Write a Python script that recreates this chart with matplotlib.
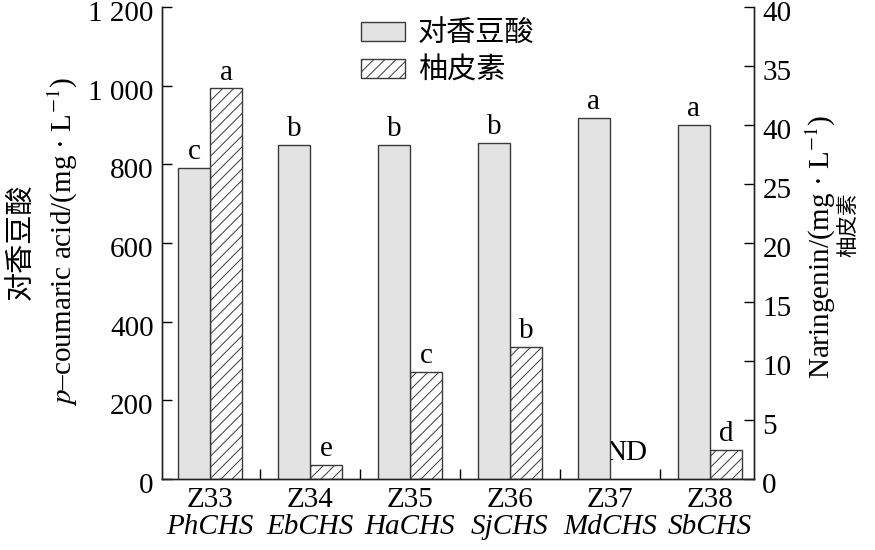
import matplotlib
matplotlib.use("Agg")
import matplotlib.pyplot as plt
import matplotlib.transforms as mtransforms
import numpy as np
from matplotlib.ticker import FixedLocator

plt.rcParams['font.family'] = ['Liberation Serif', 'Noto Sans CJK SC', 'DejaVu Serif']
plt.rcParams['mathtext.fontset'] = 'stix'
plt.rcParams['hatch.linewidth'] = 0.7

# ---- data ----
strains = ["Z33", "Z34", "Z35", "Z36", "Z37", "Z38"]
genes = ["PhCHS", "EbCHS", "HaCHS", "SjCHS", "MdCHS", "SbCHS"]
coumaric = [791, 849, 849, 854, 918, 900]          # mg/L, left axis
naringenin = [33.1, 1.19, 9.07, 11.19, 0.0, 2.46]  # mg/L, right axis
coumaric_sig = ["c", "b", "b", "b", "a", "a"]
naringenin_sig = ["a", "e", "c", "b", "ND", "d"]
left_ticks = [0, 200, 400, 600, 800, 1000, 1200]
left_ticklabels = ["0", "200", "400", "600", "800", "1 000", "1 200"]
right_ticks = [0, 5, 10, 15, 20, 25, 30, 35, 40]
right_ticklabels = ["0", "5", "10", "15", "20", "25", "40", "35", "40"]
legend_labels = ["对香豆酸", "柚皮素"]

W, H = 875, 550
fig = plt.figure(figsize=(W / 100, H / 100), dpi=100)
L, R, T, B = 162, 754, 7, 479
ax = fig.add_axes([L / W, 1 - B / H, (R - L) / W, (B - T) / H])
ax2 = ax.twinx()

FS = 21
x = np.arange(len(strains))
bw = 0.32
gray = '#e3e3e4'
edge = '#3a3a3a'

b1 = ax.bar(x - bw / 2, coumaric, bw, color=gray, edgecolor=edge, linewidth=1.0)
nar_plot = [v if s != "ND" else 0 for v, s in zip(naringenin, naringenin_sig)]
b2 = ax2.bar(x + bw / 2, nar_plot, bw, color='white', edgecolor=edge, linewidth=1.0, hatch='///')
for rect, s in zip(b2, naringenin_sig):
    if s == "ND":
        rect.set_visible(False)

ax.set_xlim(-0.48, 5.44)
ax.set_ylim(0, 1200)
ax2.set_ylim(0, 40)

for a in (ax, ax2):
    a.spines['top'].set_visible(False)
    for s in a.spines.values():
        s.set_linewidth(1.0)
        s.set_color('#222222')

ax.set_yticks(left_ticks)
ax.set_yticklabels(left_ticklabels, fontsize=FS)
ax.tick_params(axis='y', direction='in', length=7, width=1, pad=6)
ax2.set_yticks(right_ticks)
ax2.set_yticklabels(right_ticklabels, fontsize=FS)
ax2.tick_params(axis='y', direction='in', length=7, width=1, pad=6)

shift = mtransforms.ScaledTranslation(0, -4 / 100, fig.dpi_scale_trans)
for lab in ax.get_yticklabels() + ax2.get_yticklabels():
    lab.set_transform(lab.get_transform() + shift)

ax.set_xticks(x)
ax.set_xticklabels(strains, fontsize=FS)
ax.tick_params(axis='x', which='major', length=0, pad=6)
ax.xaxis.set_minor_locator(FixedLocator(x[:-1] + 0.5))
ax.tick_params(axis='x', which='minor', direction='in', length=7, width=1)

for i, g in enumerate(genes):
    ax.annotate(g, xy=(i, 0), xycoords=('data', 'axes fraction'), xytext=(0, -25.5),
                textcoords='offset points', ha='center', va='top', fontsize=FS, fontstyle='italic')

for rect, s in zip(b1, coumaric_sig):
    ax.annotate(s, xy=(rect.get_x() + rect.get_width() / 2, rect.get_height()), xytext=(0, 2),
                textcoords='offset points', ha='center', va='bottom', fontsize=FS)
for rect, s in zip(b2, naringenin_sig):
    if s == "ND":
        ax2.annotate(s, xy=(rect.get_x() + rect.get_width() / 2, 0), xytext=(0, 9),
                     textcoords='offset points', ha='center', va='bottom', fontsize=FS)
    else:
        ax2.annotate(s, xy=(rect.get_x() + rect.get_width() / 2, rect.get_height()), xytext=(0, 2),
                     textcoords='offset points', ha='center', va='bottom', fontsize=FS)

# axis labels
fig.text(22 / W, 1 - 242 / H, "对香豆酸", rotation=90, ha='center', va='center', fontsize=FS)
fig.text(63 / W, 1 - 241 / H, "$p$–coumaric acid/(mg · L$^{-1}$)", rotation=90,
         ha='center', va='center', fontsize=FS)
fig.text(821 / W, 1 - 247 / H, "Naringenin/(mg · L$^{-1}$)", rotation=90,
         ha='center', va='center', fontsize=FS)
fig.text(849 / W, 1 - 225 / H, "柚皮素", rotation=90, ha='center', va='center', fontsize=15.5)

leg = ax.legend([b1[0], b2[0]], legend_labels, loc='upper left',
                bbox_to_anchor=(361 / W, 1 - 21 / H), bbox_transform=fig.transFigure,
                frameon=False, fontsize=FS, handlelength=1.5, handleheight=0.62,
                handletextpad=0.45, labelspacing=0.32, borderpad=0, borderaxespad=0)
ax2.set_zorder(0)
ax.set_zorder(1)
ax.patch.set_visible(False)

fig.savefig("out.png", dpi=100)
